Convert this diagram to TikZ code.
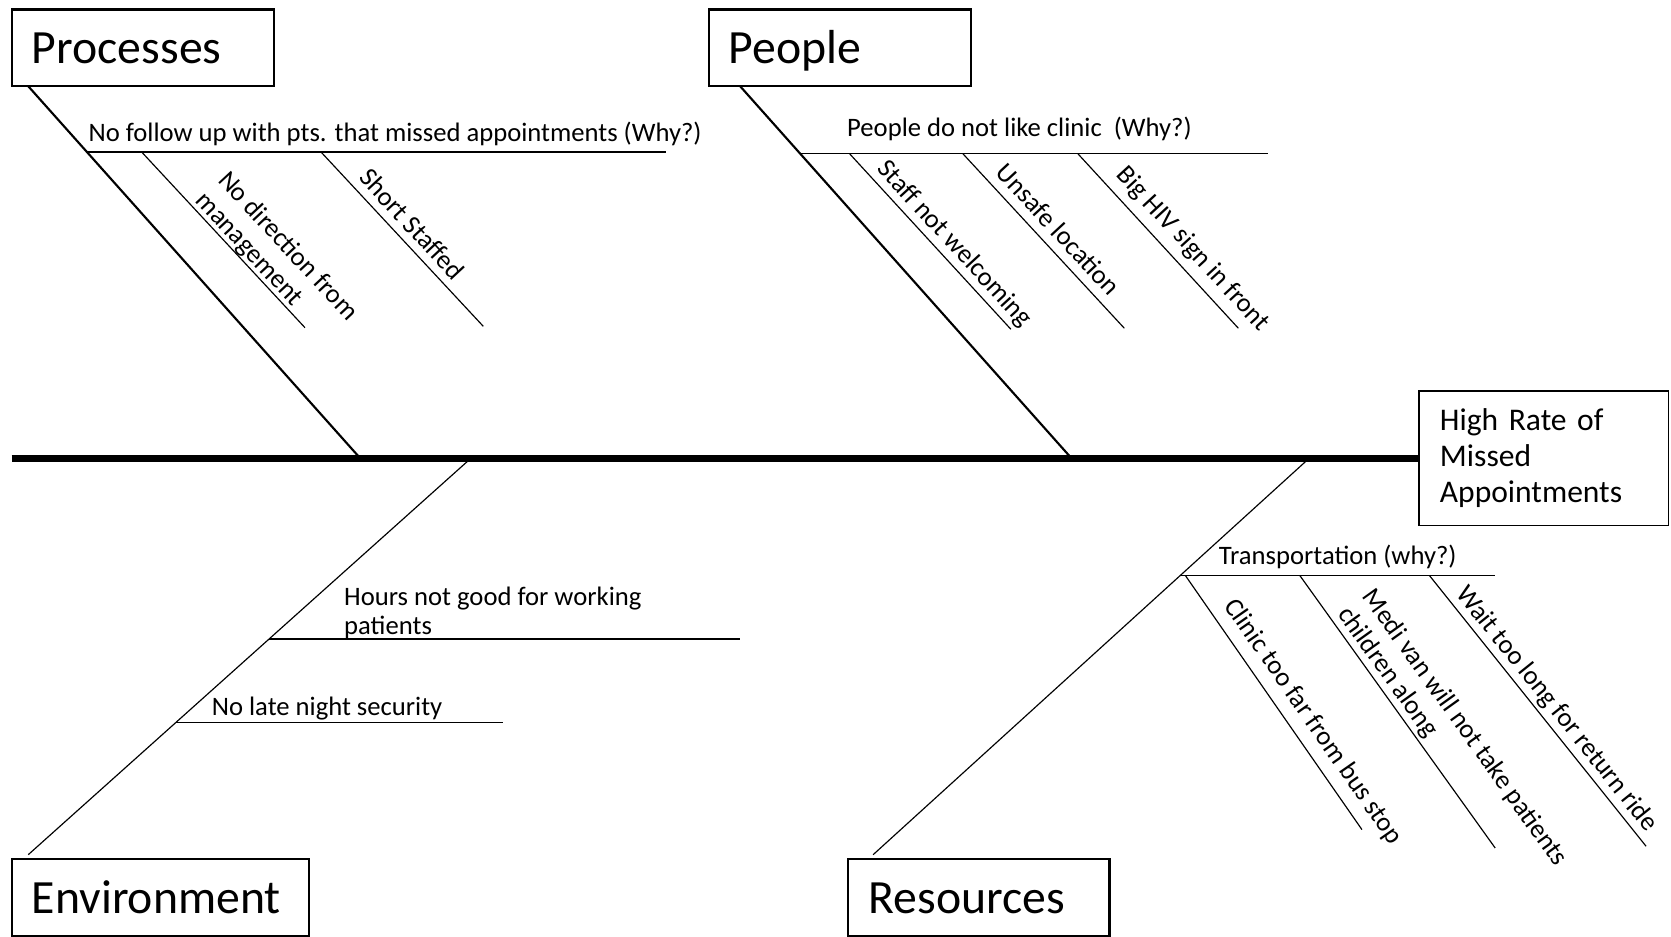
\documentclass[tikz,border=0pt]{standalone}
\usepackage{fontspec}
\setmainfont{Carlito}
\usetikzlibrary{calc}
\begin{document}
\begin{tikzpicture}[x=1pt,y=-1pt,
  catbox/.style={draw, line width=2.2pt, inner sep=0pt, minimum height=72pt,
    align=left, text height=30pt, text depth=0pt,
    font=\fontsize{44.8}{53}\selectfont},
  effectbox/.style={draw, line width=1.4pt, inner sep=0pt, minimum width=234pt,
    minimum height=126.6pt, text width=194.6pt, align=left,
    font=\fontsize{29.6}{33.6}\selectfont},
  spine/.style={line width=7pt},
  mainbone/.style={line width=2pt},
  thinbone/.style={line width=1.1pt},
  twig/.style={line width=1.1pt},
  cause/.style={inner sep=0pt, align=left, font=\fontsize{25}{28.5}\selectfont},
  slant/.style={cause, pos=0, sloped, anchor=south west, text depth=#1}
]
\useasboundingbox (0,0) rectangle (1568,879);

% effect and category boxes
\node[effectbox] (effect) at (1448.5,430) {High Rate of\\Missed\\Appointments};
\node[catbox, minimum width=246pt, text width=208pt] (proc)   at (134,45)    {Processes};
\node[catbox, minimum width=246pt, text width=208pt] (people) at (788,45)    {People};
\node[catbox, minimum width=279pt, text width=241pt] (env)    at (150.5,842) {Environment};
\node[catbox, minimum width=245pt, text width=207pt] (res)    at (918.5,842) {Resources};

% bone end points
\coordinate (tail)       at (11,430);
\coordinate (procTop)    at (26.6,81);
\coordinate (procFoot)   at (338,430);
\coordinate (peopleTop)  at (694.6,81);
\coordinate (peopleFoot) at (1005.4,430);
\coordinate (envFoot)    at (441.9,430);
\coordinate (envEnd)     at (26.5,802);
\coordinate (resFoot)    at (1228.5,430);
\coordinate (resEnd)     at (819.3,802);

\draw[mainbone] (procTop) -- (procFoot);
\draw[mainbone] (peopleTop) -- (peopleFoot);
\draw[thinbone] (envFoot) -- (envEnd);
\draw[thinbone] (resFoot) -- (resEnd);
\draw[spine] (tail) -- (effect.west);

% ---- Processes ----
\coordinate (ph1) at (81.6,142.6);
\coordinate (ph2) at (625,142.6);
\draw[twig] (ph1) -- (ph2);
\node[cause, anchor=base west] (pht) at (82.9,133.2)
  {No follow up with pts. that missed appointments (Why?)};
\coordinate (pa1) at (132.9,142.6);
\coordinate (pa2) at (286.2,307.5);
\coordinate (pb1) at (301.2,142.6);
\coordinate (pb2) at (453.5,306.2);
\draw[twig] (pa1) -- (pa2);
\draw[twig] (pb1) -- (pb2);
\path ($(pa1)!68pt!(pa2)$) -- node[slant=4.5pt] (pat) {No direction from\\management} (pa2);
\path ($(pb1)!42pt!(pb2)$) -- node[slant=8pt] (pbt) {Short Staffed} (pb2);

% ---- People ----
\coordinate (qh1) at (750.7,144);
\coordinate (qh2) at (1190,144);
\draw[twig] (qh1) -- (qh2);
\node[cause, anchor=base west] (qht) at (794.8,128.2)
  {People do not like clinic\ \ (Why?)};
\coordinate (qa1) at (797,144);
\coordinate (qa2) at (948.6,309);
\coordinate (qb1) at (903.3,144);
\coordinate (qb2) at (1055,308);
\coordinate (qc1) at (1011.2,144);
\coordinate (qc2) at (1162,308);
\draw[twig] (qa1) -- (qa2);
\draw[twig] (qb1) -- (qb2);
\draw[twig] (qc1) -- (qc2);
\path ($(qa1)!28pt!(qa2)$) -- node[slant=8pt] (qat) {Staff not welcoming} (qa2);
\path ($(qb1)!34.5pt!(qb2)$) -- node[slant=9pt] (qbt) {Unsafe location} (qb2);
\path ($(qc1)!39pt!(qc2)$) -- node[slant=12pt] (qct) {Big HIV sign in front} (qc2);

% ---- Environment ----
\coordinate (eh1) at (252.5,599.6);
\coordinate (eh2) at (694,599.6);
\coordinate (ei1) at (165.2,677.8);
\coordinate (ei2) at (471.7,677.8);
\draw[twig] (eh1) -- (eh2);
\draw[twig] (ei1) -- (ei2);
% base anchor of a two-line node sits on its last line
\node[cause, anchor=base west, font=\fontsize{25}{27.5}\selectfont] (eht) at (322.8,595.8)
  {Hours not good for working\\patients};
\node[cause, anchor=base west] (eit) at (198.6,671.5) {No late night security};

% ---- Resources ----
\coordinate (rh1) at (1107.6,539.9);
\coordinate (rh2) at (1403,539.9);
\draw[twig] (rh1) -- (rh2);
\node[cause, anchor=base west] (rht) at (1143.5,529.9) {Transportation (why?)};
\coordinate (ra1) at (1112.2,539.9);
\coordinate (ra2) at (1278,778.5);
\coordinate (rb1) at (1219.6,539.9);
\coordinate (rb2) at (1403,795.7);
\coordinate (rc1) at (1341.2,539.9);
\coordinate (rc2) at (1544.6,794.1);
\draw[twig] (ra1) -- (ra2);
\draw[twig] (rb1) -- (rb2);
\draw[twig] (rc1) -- (rc2);
\path ($(ra1)!44pt!(ra2)$) -- node[slant=13pt] (rat) {Clinic too far from bus stop} (ra2);
\path ($(rb1)!50pt!(rb2)$) -- node[slant=7pt] (rbt) {Medi van will not take patients\\children along} (rb2);
\path ($(rc1)!29pt!(rc2)$) -- node[slant=8pt] (rct) {Wait too long for return ride} (rc2);
\end{tikzpicture}
\end{document}
